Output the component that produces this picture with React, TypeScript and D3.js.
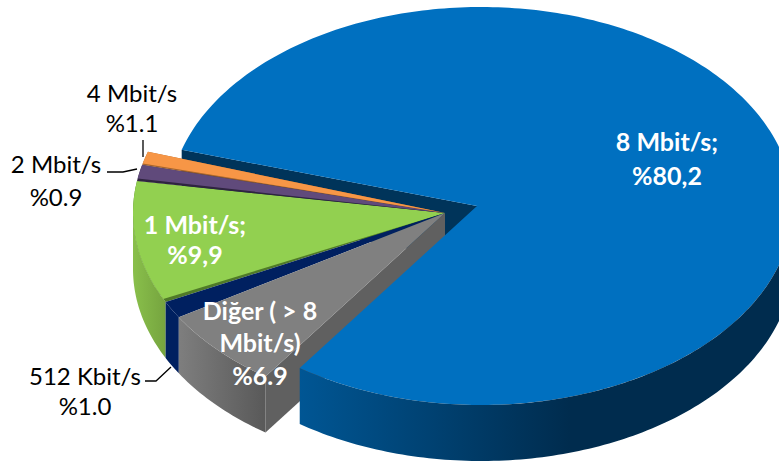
import React from "react";
import * as d3 from "d3";

const W = 779, H = 463;
const categories = ["8 Mbit/s", "Diğer ( > 8 Mbit/s)", "512 Kbit/s", "1 Mbit/s", "2 Mbit/s", "4 Mbit/s"];
const shares = [80.2, 6.9, 1.0, 9.9, 0.9, 1.1];
const topColors = ["#0070C0", "#808080", "#002060", "#92D050", "#604A7B", "#F79646"];
const bandColors = ["#00345A", "#606060", "#002060", "#4F7A28", "#2F2440", "#A6642C"];
const bandDegrees = [0, 0, 0, 1.0, 0.7, 0.4];
// small visual correction of slice edges, in degrees, as PowerPoint's 3D projection leaves them
const startAdjust = [0, 0, -1.4, 0, 0, 1.5];
const endAdjust = [0.4, -1.4, 0, 0, 1.5, 1.4];

const FONT = "Lato, Carlito, Calibri, sans-serif";
const deg = Math.PI / 180;
const DEPTH = 56;
const START = 286.4 * deg;

const slices = d3.pie<number>().sort(null).startAngle(START).endAngle(START + 2 * Math.PI)(shares);
const s0 = (i: number) => slices[i].startAngle + startAdjust[i] * deg;
const s1 = (i: number) => slices[i].endAngle + endAdjust[i] * deg;

type Geo = { cx: number; cy: number; rx: number; ry: number; ax: number; ay: number };
const blueGeo: Geo = { cx: 481, cy: 206, rx: 312, ry: 199, ax: 477, ay: 206 };
const restGeo: Geo = { cx: 445, cy: 213, rx: 312, ry: 200, ax: 445, ay: 213 };

const pt = (g: Geo, a: number): [number, number] => [g.cx + g.rx * Math.sin(a), g.cy - g.ry * Math.cos(a)];
const arcPts = (g: Geo, a0: number, a1: number) => {
  const n = Math.max(2, Math.ceil(Math.abs(a1 - a0) / deg));
  return d3.range(n + 1).map((i) => pt(g, a0 + ((a1 - a0) * i) / n));
};
const line = d3.line<[number, number]>();
const down = (p: [number, number]): [number, number] => [p[0], p[1] + DEPTH];

const sector = (g: Geo, a0: number, a1: number) => line([[g.ax, g.ay], ...arcPts(g, a0, a1)])! + "Z";
const rimWall = (g: Geo, a0: number, a1: number) => {
  const top = arcPts(g, a0, a1);
  return line([...top, ...top.slice().reverse().map(down)])! + "Z";
};
const edgeWall = (g: Geo, a: number) => {
  const c: [number, number] = [g.ax, g.ay];
  const p = pt(g, a);
  return line([c, p, down(p), down(c)])! + "Z";
};
// portion of a slice whose outer wall faces the viewer (d3 angle between 90° and 270°, modulo 360)
const frontRange = (a0: number, a1: number): [number, number] | null => {
  const lo = Math.PI / 2, hi = (3 * Math.PI) / 2;
  for (const k of [0, 2 * Math.PI]) {
    const s = Math.max(a0, lo + k), e = Math.min(a1, hi + k);
    if (e > s) return [s, e];
  }
  return null;
};

type Lbl = { t: string; x: number; y: number; bold?: boolean; white?: boolean };
const labels: Lbl[] = [
  { t: "8 Mbit/s;", x: 667, y: 141, bold: true, white: true },
  { t: "%80,2", x: 667, y: 175, bold: true, white: true },
  { t: "1 Mbit/s;", x: 195, y: 224, bold: true, white: true },
  { t: "%9,9", x: 195, y: 254, bold: true, white: true },
  { t: "Diğer ( > 8", x: 260, y: 310, bold: true, white: true },
  { t: "Mbit/s)", x: 260, y: 342, bold: true, white: true },
  { t: "%6.9", x: 260, y: 375, bold: true, white: true },
  { t: "4 Mbit/s", x: 132, y: 92 },
  { t: "%1.1", x: 132, y: 122 },
  { t: "2 Mbit/s", x: 56, y: 163 },
  { t: "%0.9", x: 56, y: 196 },
  { t: "512 Kbit/s", x: 85, y: 375 },
  { t: "%1.0", x: 85, y: 405 },
];
const leaders: [number, number][][] = [
  [[143, 140], [143, 157]],
  [[107, 172], [123, 172], [137, 169]],
  [[145, 381], [156, 381], [171, 367]],
];

export default function App() {
  const blueFront = frontRange(s0(0), s1(0))!;
  const greenFront = frontRange(s0(3), s1(3));
  return (
    <svg width={W} height={H} viewBox={`0 0 ${W} ${H}`} style={{ position: "absolute", left: 0, top: 0, background: "#fff" }}>
      <defs>
        <linearGradient id="blueWall" gradientUnits="userSpaceOnUse" x1={299} x2={570} y1={0} y2={0}>
          <stop offset="0" stopColor="#005694" />
          <stop offset="1" stopColor="#002C4E" />
        </linearGradient>
        <linearGradient id="grayWall" gradientUnits="userSpaceOnUse" x1={179} x2={270} y1={0} y2={0}>
          <stop offset="0" stopColor="#7E7E7E" />
          <stop offset="1" stopColor="#575757" />
        </linearGradient>
        <linearGradient id="greenWall" gradientUnits="userSpaceOnUse" x1={130} x2={168} y1={0} y2={0}>
          <stop offset="0" stopColor="#8BC24C" />
          <stop offset="1" stopColor="#74A23E" />
        </linearGradient>
      </defs>

      {/* blue: wall along the cut edge, behind everything */}
      <path d={edgeWall(blueGeo, s0(0))} fill={bandColors[0]} />

      {/* small slices: walls and tops */}
      {greenFront ? <path d={rimWall(restGeo, greenFront[0], greenFront[1])} fill="url(#greenWall)" /> : null}
      {[3, 4, 5].map((i) => (
        <g key={i}>
          <path d={sector(restGeo, s0(i), s1(i))} fill={bandColors[i]} />
          <path d={sector(restGeo, s0(i) + bandDegrees[i] * deg, s1(i))} fill={topColors[i]} />
        </g>
      ))}
      <path d={rimWall(restGeo, s0(2), s1(2))} fill={topColors[2]} />
      <path d={sector(restGeo, s0(2), s1(2))} fill={topColors[2]} />
      <path d={edgeWall(restGeo, s0(1))} fill={bandColors[1]} />
      <path d={rimWall(restGeo, s0(1), s1(1))} fill="url(#grayWall)" />
      <path d={sector(restGeo, s0(1), s1(1))} fill={topColors[1]} />

      {/* blue top and front wall */}
      <path d={sector(blueGeo, s0(0), s1(0))} fill={topColors[0]} />
      <path d={rimWall(blueGeo, blueFront[0], blueFront[1])} fill="url(#blueWall)" />

      {leaders.map((l, i) => (
        <path key={i} d={line(l)!} fill="none" stroke="#000" strokeWidth={1.3} />
      ))}
      {labels.map((l, i) => (
        <text
          key={i}
          x={l.x}
          y={l.y}
          textAnchor="middle"
          dominantBaseline="central"
          fontFamily={FONT}
          fontSize={l.bold ? 25 : 24}
          fontWeight={l.bold ? 700 : 400}
          fill={l.white ? "#fff" : "#000"}
        >
          {l.t}
        </text>
      ))}
      <title>{categories.join(", ")}</title>
    </svg>
  );
}
